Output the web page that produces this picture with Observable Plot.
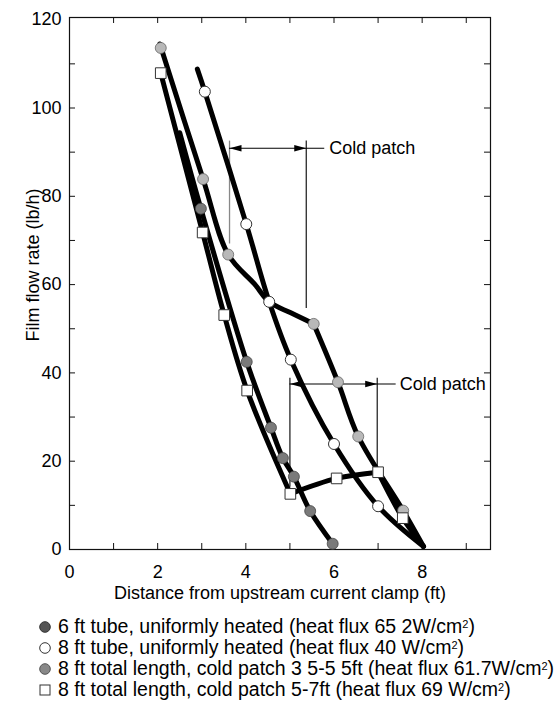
<!DOCTYPE html>
<html><head><meta charset="utf-8">
<script src="https://cdn.jsdelivr.net/npm/d3@7"></script>
<script src="https://cdn.jsdelivr.net/npm/@observablehq/plot@0.6"></script>
<style>
body{margin:0;background:#fff;font-family:Arial,"Liberation Sans",Helvetica,sans-serif;color:#000;}
#chart{position:relative;width:559px;height:702px;overflow:hidden;}
#legend{position:absolute;left:0;top:616px;font-size:19.5px;line-height:21px;}
#legend .row{display:flex;align-items:center;height:21px;white-space:nowrap;}
#legend svg{margin-left:38px;margin-right:6px;flex:none;}
#ytitle{position:absolute;left:33px;top:265px;font-size:18px;white-space:nowrap;transform:translate(-50%,-50%) rotate(-90deg);}
sup{font-size:11px;line-height:0;vertical-align:5px;}
</style></head><body>
<div id="chart"></div>
<script>
// ---- data ----
const xTickMarks = [1,2,3,4,5,6,7,8,9];
const yTickMarks = [10,20,30,40,50,60,70,80,90,100,110];
const xTickLabels = [0,2,4,6,8];
const yTickLabels = [0,20,40,60,80,100,120];

// 6 ft tube, uniformly heated
const tube6Markers = [[2.98,77.2],[4.02,42.5],[4.57,27.6],[4.84,20.7],[5.09,16.5],[5.46,8.7],[5.97,1.3]];
const tube6Curve = [[[2.5,94.4],[2.98,77.2],[4.02,42.5],[4.57,27.6],[4.84,20.7],[5.09,16.5],[5.46,8.7],[5.97,1.3]]];
// 8 ft tube, uniformly heated
const tube8Markers = [[3.07,103.7],[4.01,73.7],[4.53,56.1],[5.02,43.0],[6.0,23.9],[7.0,9.8]];
const tube8Curve = [[[2.9,108.8],[3.07,103.7],[4.01,73.7],[4.53,56.1],[5.02,43.0],[6.0,23.9],[7.0,9.8],[8.03,0.7]]];
// 8 ft total length, cold patch 3.5-5.5 ft
const patch35Markers = [[2.07,113.6],[3.03,83.9],[3.6,66.8],[5.54,51.1],[6.09,37.9],[6.55,25.6],[7.57,8.8]];
const patch35Curve = [[[2.05,114.5],[3.03,83.9],[3.6,66.8],[4.2,60.1],[4.53,56.1],[5.02,53.6],[5.54,51.1]],
                      [[5.54,51.1],[6.09,37.9],[6.55,25.6],[7.57,8.8],[8.03,0.7]]];
// 8 ft total length, cold patch 5-7 ft
const patch57Markers = [[2.07,107.9],[3.02,71.8],[3.51,53.1],[4.03,36.0],[5.01,12.6],[6.06,16.1],[7.0,17.5],[7.56,7.1]];
const patch57Curve = [[[2.07,107.9],[3.02,71.8],[3.51,53.1],[4.03,36.0],[5.01,12.6]],
                      [[5.01,12.6],[6.06,16.1],[7.0,17.5]],
                      [[7.0,17.5],[7.56,7.1],[8.03,0.7]]];

// "Cold patch" brackets
const cpLabels = ["Cold patch","Cold patch"];
const cpX1 = [3.63, 5.0];
const cpX2 = [5.37, 6.98];
const cpArrowY = [90.9, 37.5];
const cpTop = [92.5, 38.8];
const cpLeftEnd = [69.2, 14.1];
const cpRightEnd = [54.6, 18.6];
const cpLeaderEnd = [5.79, 7.41];
const cpLabelX = [5.89, 7.49];

const xTitle = "Distance from upstream current clamp (ft)";
const yTitle = "Film flow rate (lb/h)";

// ---- build tables ----
function curveRows(name, segs){return segs.flatMap((s,j)=>s.map(([x,y])=>({x,y,seg:name+j})));}
const curves = [
  ...curveRows("t6",tube6Curve), ...curveRows("t8",tube8Curve),
  ...curveRows("p35",patch35Curve), ...curveRows("p57",patch57Curve)
];
const cp = cpLabels.map((label,i)=>({label,x1:cpX1[i],x2:cpX2[i],ay:cpArrowY[i],top:cpTop[i],le:cpLeftEnd[i],re:cpRightEnd[i],lead:cpLeaderEnd[i],lx:cpLabelX[i]}));
const arrowSym = {draw(ctx){ctx.moveTo(0,0);ctx.lineTo(-12,-3.2);ctx.lineTo(-12,3.2);ctx.closePath();}};
const px = d=>d[0], py = d=>d[1];

const H = 609, MT = 17, MB = 60, ML = 69, MR = 69;
const ih = H-MT-MB, iw = 559-ML-MR;

const chart = Plot.plot({
  width:559, height:H, marginLeft:ML, marginRight:MR, marginTop:MT, marginBottom:MB,
  x:{domain:[0,9.55]}, y:{domain:[0,120.5]},
  style:{fontFamily:'Arial,"Liberation Sans",Helvetica,sans-serif', fontSize:"18px", color:"#000", background:"#fff", overflow:"visible"},
  marks:[
    Plot.frame({stroke:"#111", strokeWidth:1.2}),
    Plot.tickX(xTickMarks,{x:d=>d, insetTop:ih-6, stroke:"#111"}),
    Plot.tickX(xTickMarks,{x:d=>d, insetBottom:ih-6, stroke:"#111"}),
    Plot.tickY(yTickMarks,{y:d=>d, insetRight:iw-6, stroke:"#111"}),
    Plot.tickY(yTickMarks,{y:d=>d, insetLeft:iw-6, stroke:"#111"}),
    Plot.axisX(xTickLabels,{tickSize:0, tickPadding:16, label:null, fontSize:18}),
    Plot.axisY(yTickLabels,{tickSize:0, tickPadding:8, label:null, fontSize:18}),
    Plot.text([xTitle],{text:d=>d, frameAnchor:"bottom", dy:44, lineAnchor:"middle", fontSize:18}),
    // cold patch brackets
    Plot.ruleX(cp.slice(0,1),{x:"x1", y1:"top", y2:"le", stroke:"#888", strokeWidth:1.3}),
    Plot.ruleX(cp.slice(1),{x:"x1", y1:"top", y2:"le", stroke:"#000", strokeWidth:1.1}),
    Plot.ruleX(cp,{x:"x2", y1:"top", y2:"re", stroke:"#000", strokeWidth:1.1}),
    Plot.ruleY(cp,{y:"ay", x1:"x1", x2:"lead", stroke:"#000", strokeWidth:1.1}),
    Plot.dot(cp,{x:"x2", y:"ay", symbol:arrowSym, fill:"#000", stroke:"none", r:4}),
    Plot.dot(cp,{x:"x1", y:"ay", symbol:arrowSym, rotate:180, fill:"#000", stroke:"none", r:4}),
    Plot.text(cp,{x:"lx", y:"ay", text:"label", textAnchor:"start", lineAnchor:"middle", fontSize:18}),
    // curves
    Plot.line(curves,{x:"x", y:"y", z:"seg", curve:"catmull-rom", stroke:"#000", strokeWidth:5, strokeLinecap:"round", strokeLinejoin:"round"}),
    // markers
    Plot.dot(tube6Markers,{x:px, y:py, r:5.5, fill:"#7a7a7a", stroke:"#444", strokeWidth:0.8}),
    Plot.dot(patch35Markers,{x:px, y:py, r:5.5, fill:"#b8b8b8", stroke:"#666", strokeWidth:0.8}),
    Plot.dot(tube8Markers,{x:px, y:py, r:5.5, fill:"#fff", stroke:"#333", strokeWidth:1}),
    Plot.dot(patch57Markers,{x:px, y:py, r:6, symbol:"square", fill:"#fff", stroke:"#333", strokeWidth:1})
  ]
});
const root = document.getElementById("chart");
root.appendChild(chart);

// y title
const yt = document.createElement("div"); yt.id = "ytitle"; yt.textContent = yTitle;
root.appendChild(yt);

// legend
const legendItems = [
  {sym:"circle", fill:"#555", stroke:"#333", html:"6 ft tube, uniformly heated (heat flux 65 2W/cm<sup>2</sup>)"},
  {sym:"circle", fill:"#fff", stroke:"#333", html:"8 ft tube, uniformly heated (heat flux 40 W/cm<sup>2</sup>)"},
  {sym:"circle", fill:"#888", stroke:"#555", html:"8 ft total length, cold patch 3 5-5 5ft (heat flux 61.7W/cm<sup>2</sup>)"},
  {sym:"square", fill:"#fff", stroke:"#333", html:"8 ft total length, cold patch 5-7ft (heat flux 69 W/cm<sup>2</sup>)"}
];
const lg = document.createElement("div"); lg.id="legend";
for (const it of legendItems){
  const row = document.createElement("div"); row.className="row";
  const shape = it.sym==="circle"
    ? `<circle cx="7" cy="7" r="5.3" fill="${it.fill}" stroke="${it.stroke}" stroke-width="1"/>`
    : `<rect x="2" y="2" width="10" height="10" fill="${it.fill}" stroke="${it.stroke}" stroke-width="1"/>`;
  row.innerHTML = `<svg width="14" height="14">${shape}</svg><span>${it.html}</span>`;
  lg.appendChild(row);
}
root.appendChild(lg);
</script></body></html>
